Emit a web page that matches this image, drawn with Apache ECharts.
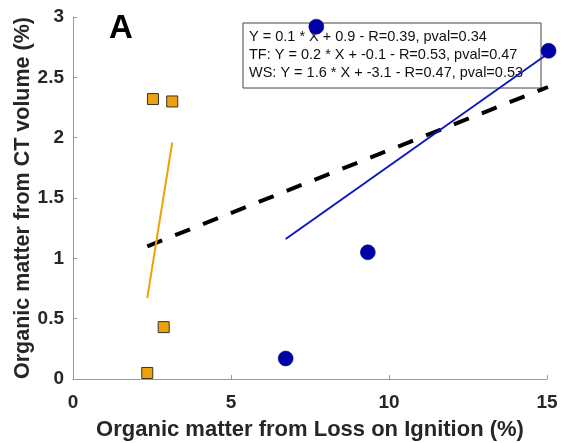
<!DOCTYPE html>
<html><head><meta charset="utf-8">
<script src="https://cdn.jsdelivr.net/npm/echarts@6/dist/echarts.min.js"></script>
<style>html,body{margin:0;padding:0;background:#fff}#c{width:561px;height:443px}</style>
</head><body><div id="c"></div>
<script>
// Data
const tfX = [2.53, 3.14, 2.87, 2.35];
const tfY = [2.32, 2.30, 0.43, 0.05];
const wsX = [7.70, 15.05, 9.33, 6.73];
const wsY = [2.92, 2.72, 1.05, 0.17];
const allFitX = [2.35, 15.03];
const allFitY = [1.10, 2.42];
const tfFitX = [2.35, 3.14];
const tfFitY = [0.67, 1.96];
const wsFitX = [6.73, 15.05];
const wsFitY = [1.16, 2.70];
const xTicks = [0, 5, 10, 15];
const yTicks = [0, 0.5, 1, 1.5, 2, 2.5, 3];
const legendLines = [
  'Y = 0.1 * X + 0.9 - R=0.39, pval=0.34',
  'TF: Y = 0.2 * X + -0.1 - R=0.53, pval=0.47',
  'WS: Y = 1.6 * X + -3.1 - R=0.47, pval=0.53'
];
const zip = (a, b) => a.map((v, i) => [v, b[i]]);

const chart = echarts.init(document.getElementById('c'), null, {renderer: 'canvas'});
const font = '"Liberation Sans", Arial, sans-serif';
chart.setOption({
  animation: false,
  backgroundColor: '#fff',
  grid: {left: 73, right: 14, top: 17, bottom: 64, containLabel: false, outerBoundsMode: 'none'},
  xAxis: {
    type: 'value', min: 0, max: 15, interval: 5,
    name: 'Organic matter from Loss on Ignition (%)',
    nameLocation: 'middle', nameGap: 40, nameMoveOverlap: false,
    nameTextStyle: {fontFamily: font, fontWeight: 'bold', fontSize: 22, color: '#262626'},
    axisLine: {show: true, lineStyle: {color: '#999', width: 1}},
    axisTick: {show: true, inside: true, length: 4, lineStyle: {color: '#999'}},
    axisLabel: {fontFamily: font, fontWeight: 'bold', fontSize: 19, color: '#262626', margin: 14,
      formatter: v => xTicks.includes(v) ? String(v) : ''},
    splitLine: {show: false}
  },
  yAxis: {
    type: 'value', min: 0, max: 3, interval: 0.5,
    name: 'Organic matter from CT volume (%)',
    nameLocation: 'middle', nameGap: 39, nameMoveOverlap: false,
    nameTextStyle: {fontFamily: font, fontWeight: 'bold', fontSize: 21.5, color: '#262626'},
    axisLine: {show: true, lineStyle: {color: '#999', width: 1}},
    axisTick: {show: true, inside: true, length: 4, lineStyle: {color: '#999'}},
    axisLabel: {fontFamily: font, fontWeight: 'bold', fontSize: 19, color: '#262626', margin: 9,
      formatter: v => yTicks.includes(v) ? String(v) : ''},
    splitLine: {show: false}
  },
  graphic: [
    {type: 'text', x: 109, y: 29, z: 0,
     style: {text: 'A', font: 'bold 33px ' + font, fill: '#000', verticalAlign: 'middle'}},
    {type: 'rect', z: 0, shape: {x: 243, y: 23, width: 298, height: 65},
     style: {fill: '#fff', stroke: '#444', lineWidth: 1}},
    ...legendLines.map((t, i) => ({
      type: 'text', z: 0, x: 249, y: 37 + i * 18,
      style: {text: t, font: '14.5px ' + font, fill: '#111', verticalAlign: 'middle'}
    }))
  ],
  series: [
    {type: 'line', data: zip(allFitX, allFitY), symbol: 'none', z: 2, clip: false,
     lineStyle: {color: '#000', width: 4, type: [16, 14]}},
    {type: 'line', data: zip(tfFitX, tfFitY), symbol: 'none', z: 3, clip: false,
     lineStyle: {color: '#EDA10A', width: 2}},
    {type: 'line', data: zip(wsFitX, wsFitY), symbol: 'none', z: 3, clip: false,
     lineStyle: {color: '#0A18BE', width: 2}},
    {type: 'scatter', data: zip(tfX, tfY), symbol: 'rect', symbolSize: 11, z: 4, clip: false,
     itemStyle: {color: '#EDA10A', borderColor: '#333', borderWidth: 1, opacity: 1}},
    {type: 'scatter', data: zip(wsX, wsY), symbol: 'circle', symbolSize: 15, z: 4, clip: false,
     itemStyle: {color: '#0000A8', borderColor: '#000066', borderWidth: 0.5, opacity: 1}}
  ]
});
</script></body></html>
